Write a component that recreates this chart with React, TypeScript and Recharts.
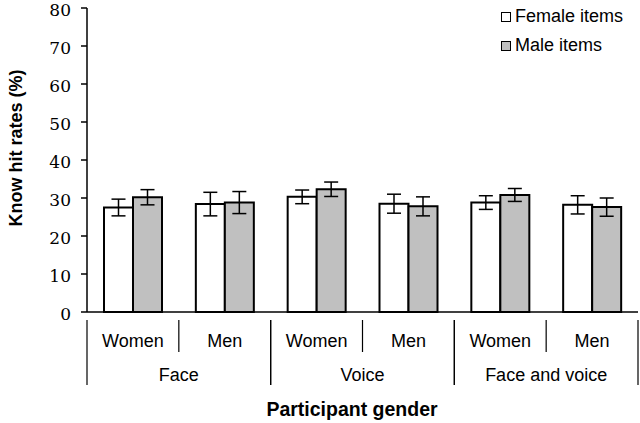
import React from 'react';
import { BarChart, Bar, XAxis, YAxis, ErrorBar } from 'recharts';

const genders = ['Women', 'Men', 'Women', 'Men', 'Women', 'Men'];
const modalities = ['Face', 'Face', 'Voice', 'Voice', 'Face and voice', 'Face and voice'];
const femaleItems = [27.5, 28.4, 30.3, 28.5, 28.8, 28.2];
const femaleErr = [2.2, 3.1, 1.8, 2.5, 1.8, 2.4];
const maleItems = [30.2, 28.8, 32.3, 27.8, 30.8, 27.6];
const maleErr = [2.0, 2.9, 1.9, 2.5, 1.7, 2.4];
const yTicks = [0, 10, 20, 30, 40, 50, 60, 70, 80];

const data = genders.map((g, i) => ({
  key: `${modalities[i]}-${g}`,
  gender: g,
  modality: modalities[i],
  female: femaleItems[i],
  femaleErr: femaleErr[i],
  male: maleItems[i],
  maleErr: maleErr[i],
}));

const SANS = "'Liberation Sans', Arial, sans-serif";
const SERIF = "'DejaVu Serif', 'Liberation Serif', serif";

// two-level category tick with divider lines
function GroupTick(props: any) {
  const { x, y, payload, index } = props;
  const half = payload && payload.offset ? payload.offset : 46;
  const row = data[index];
  if (!row) return null;
  const first = index % 2 === 0;
  return (
    <g>
      <text x={x} y={y + 27} textAnchor="middle" style={{ fontFamily: SANS, fontSize: 18 }} fill="#000">
        {row.gender}
      </text>
      {first ? (
        <>
          <line x1={x - half} y1={y} x2={x - half} y2={y + 65} stroke="#000" strokeWidth={1.2} />
          <line x1={x + half} y1={y} x2={x + half} y2={y + 32} stroke="#000" strokeWidth={1.2} />
          <text x={x + half} y={y + 61} textAnchor="middle" style={{ fontFamily: SANS, fontSize: 18 }} fill="#000">
            {row.modality}
          </text>
        </>
      ) : (
        <line x1={x + half} y1={y} x2={x + half} y2={y + 65} stroke="#000" strokeWidth={1.2} />
      )}
    </g>
  );
}

function ValueTick(props: any) {
  const { x, y, payload } = props;
  return (
    <text x={x} y={y} dy={8} textAnchor="end" style={{ fontFamily: SERIF, fontSize: 17 }} fill="#000">
      {payload.value}
    </text>
  );
}

function YTitle() {
  return (
    <text
      x={22}
      y={148}
      transform="rotate(-90 22 148)"
      textAnchor="middle"
      style={{ fontFamily: SANS, fontWeight: 'bold', fontSize: 18 }}
      fill="#000"
    >
      Know hit rates (%)
    </text>
  );
}

function XTitle() {
  return (
    <text x={352} y={416} textAnchor="middle" style={{ fontFamily: SANS, fontWeight: 'bold', fontSize: 19.5 }} fill="#000">
      Participant gender
    </text>
  );
}

const legendItems = [
  { label: 'Female items', fill: '#ffffff' },
  { label: 'Male items', fill: '#c0c0c0' },
];

export default function App() {
  return (
    <div style={{ position: 'absolute', left: 0, top: 0, width: 640, height: 423, background: '#fff' }}>
      <BarChart
        width={640}
        height={423}
        data={data}
        margin={{ top: 8, right: 2, left: 0, bottom: 0 }}
        barCategoryGap={17}
        barGap={0}
      >
        <XAxis
          dataKey="key"
          type="category"
          height={111}
          tickLine={false}
          axisLine={{ stroke: '#000', strokeWidth: 1.5 }}
          tick={<GroupTick />}
          interval={0}
          label={(p: any) => <XTitle />}
        />
        <YAxis
          domain={[0, 80]}
          ticks={yTicks}
          width={87}
          tickSize={6}
          tickMargin={10}
          axisLine={{ stroke: '#000', strokeWidth: 1.5 }}
          tickLine={{ stroke: '#000', strokeWidth: 1.5 }}
          tick={<ValueTick />}
          interval={0}
          label={(p: any) => <YTitle />}
        />
        <Bar dataKey="female" fill="#ffffff" stroke="#000" strokeWidth={2} isAnimationActive={false}>
          <ErrorBar dataKey="femaleErr" width={7} stroke="#000" strokeWidth={1.5} />
        </Bar>
        <Bar dataKey="male" fill="#c0c0c0" stroke="#000" strokeWidth={2} isAnimationActive={false}>
          <ErrorBar dataKey="maleErr" width={7} stroke="#000" strokeWidth={1.5} />
        </Bar>
      </BarChart>
      <div style={{ position: 'absolute', left: 501, top: 2, fontFamily: SANS, fontSize: 18, color: '#000' }}>
        {legendItems.map((it) => (
          <div key={it.label} style={{ display: 'flex', alignItems: 'center', height: 29 }}>
            <span
              style={{
                display: 'inline-block',
                width: 8,
                height: 8,
                border: '1.5px solid #000',
                background: it.fill,
                marginRight: 4,
              }}
            />
            {it.label}
          </div>
        ))}
      </div>
    </div>
  );
}
